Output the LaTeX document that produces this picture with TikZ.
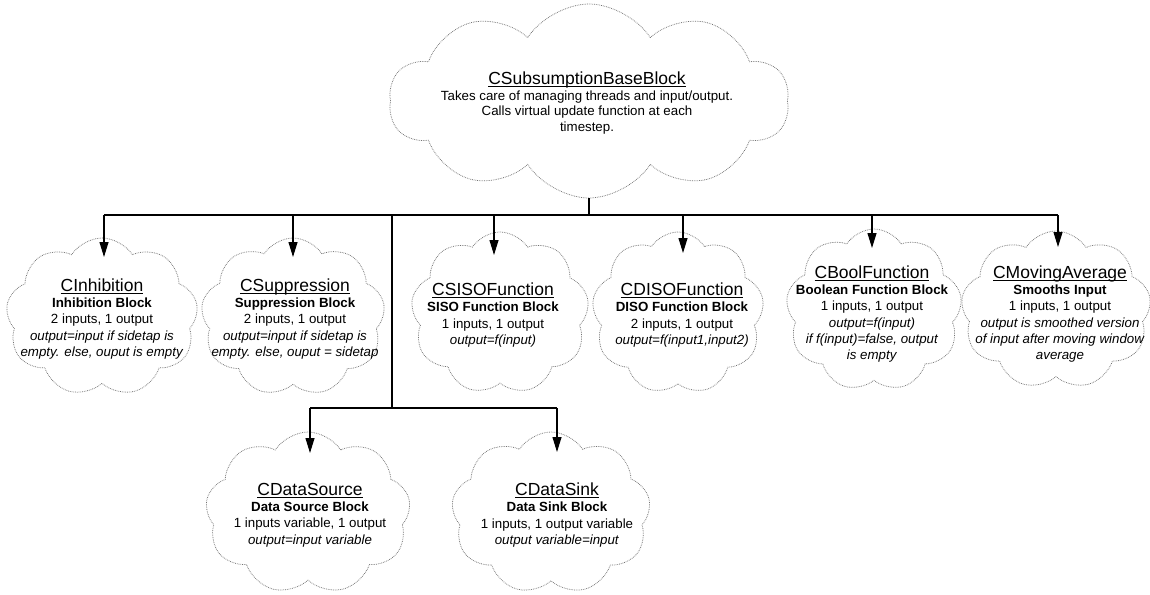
\documentclass[tikz,border=0pt]{standalone}
\usepackage{fontspec}
\setmainfont{Liberation Sans}
\usetikzlibrary{shapes.symbols,arrows.meta}
\newcommand\cttl[1]{{\fontsize{17.5}{17}\selectfont\setbox0\hbox{#1}\rlap{\rule[-2.6pt]{\wd0}{1.1pt}}\box0}}
\begin{document}
\begin{tikzpicture}[x=1pt,y=-1pt,
  cloudbox/.style={cloud, cloud puffs=9, cloud puff arc=115, cloud ignores aspect, draw=black!55, densely dotted, line width=0.75pt, inner sep=0pt, fill=white},
  txt/.style={align=center, font=\fontsize{13.3}{16.3}\selectfont, inner sep=0pt},
  conn/.style={line width=1.1pt, black},
  arr/.style={conn, -{Triangle[length=15pt,width=9pt]}},
]
\useasboundingbox[fill=white] (0,0) rectangle (1150,594);
% clouds
\node[cloudbox, cloud puffs=10, minimum width=400pt, minimum height=194pt] (baseC) at (589,101) {};
\node[cloudbox, minimum width=192pt, minimum height=158pt] (inhC) at (102,317) {};
\node[cloudbox, minimum width=184pt, minimum height=158pt] (supC) at (293,317) {};
\node[cloudbox, minimum width=178pt, minimum height=162pt] (sisoC) at (500,313) {};
\node[cloudbox, minimum width=172pt, minimum height=162pt] (disoC) at (678,313) {};
\node[cloudbox, minimum width=176pt, minimum height=162pt] (boolC) at (874,310) {};
\node[cloudbox, minimum width=190pt, minimum height=158pt] (movC) at (1056,310) {};
\node[cloudbox, minimum width=205pt, minimum height=162pt] (srcC) at (308,513) {};
\node[cloudbox, minimum width=199pt, minimum height=162pt] (sinkC) at (551,513) {};
% texts
\node[txt, font=\fontsize{13.3}{15.5}\selectfont] (base) at (587,103) {\cttl{CSubsumptionBaseBlock}\\Takes care of managing threads and input/output.\\Calls virtual update function at each\\timestep.};
\node[txt] (inh) at (102,319) {\cttl{CInhibition}\\\textbf{Inhibition Block}\\2 inputs, 1 output\\\textit{output=input if sidetap is}\\\textit{empty. else, ouput is empty}};
\node[txt] (sup) at (295,319) {\cttl{CSuppression}\\\textbf{Suppression Block}\\2 inputs, 1 output\\\textit{output=input if sidetap is}\\\textit{empty. else, ouput = sidetap}};
\node[txt] (siso) at (493,315) {\cttl{CSISOFunction}\\\textbf{SISO Function Block}\\1 inputs, 1 output\\\textit{output=f(input)}};
\node[txt] (diso) at (682,315) {\cttl{CDISOFunction}\\\textbf{DISO Function Block}\\2 inputs, 1 output\\\textit{output=f(input1,input2)}};
\node[txt] (bool) at (872,314) {\cttl{CBoolFunction}\\\textbf{Boolean Function Block}\\1 inputs, 1 output\\\textit{output=f(input)}\\\textit{if f(input)=false, output}\\\textit{is empty}};
\node[txt] (mov) at (1060,314) {\cttl{CMovingAverage}\\\textbf{Smooths Input}\\1 inputs, 1 output\\\textit{output is smoothed version}\\\textit{of input after moving window}\\\textit{average}};
\node[txt] (src) at (310,515) {\cttl{CDataSource}\\\textbf{Data Source Block}\\1 inputs variable, 1 output\\\textit{output=input variable}};
\node[txt] (sink) at (557,515) {\cttl{CDataSink}\\\textbf{Data Sink Block}\\1 inputs, 1 output variable\\\textit{output variable=input}};
% connector points
\coordinate (busL) at (104,215);
\coordinate (busR) at (1058,215);
\coordinate (busS) at (392,215);
\coordinate (subL) at (310,408);
\coordinate (subR) at (557,408);
\coordinate (subS) at (392,408);
\coordinate (inhT) at (104,257);
\coordinate (supT) at (293,257);
\coordinate (sisoT) at (494,255);
\coordinate (disoT) at (683,253);
\coordinate (boolT) at (872,248);
\coordinate (movT) at (1058,247);
\coordinate (srcT) at (310,453);
\coordinate (sinkT) at (557,452);
% connectors
\draw[conn] (baseC.south) -- (baseC.south |- busL);
\draw[conn] (busL) -- (busR);
\draw[conn] (busS) -- (subS);
\draw[conn] (subL) -- (subR);
\draw[arr] (busL) -- (inhT);
\draw[arr] (supT |- busL) -- (supT);
\draw[arr] (sisoT |- busL) -- (sisoT);
\draw[arr] (disoT |- busL) -- (disoT);
\draw[arr] (boolT |- busL) -- (boolT);
\draw[arr] (busR) -- (movT);
\draw[arr] (subL) -- (srcT);
\draw[arr] (subR) -- (sinkT);
\end{tikzpicture}
\end{document}
